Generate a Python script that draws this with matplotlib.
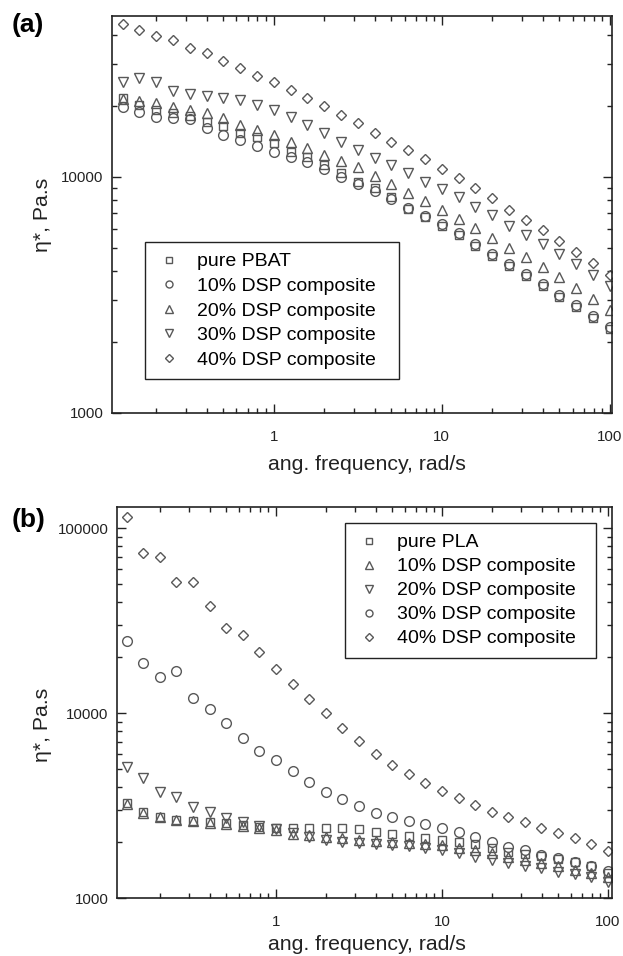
import matplotlib
matplotlib.use('Agg')
import matplotlib.pyplot as plt
from matplotlib.ticker import LogLocator, NullFormatter, FuncFormatter

plt.rcParams['font.family'] = ['Liberation Sans', 'DejaVu Sans']

# angular frequency (rad/s), shared by both panels
freq = [0.126, 0.158, 0.2, 0.251, 0.316, 0.398, 0.501, 0.631, 0.794, 1.0,
        1.26, 1.58, 2.0, 2.51, 3.16, 3.98, 5.01, 6.31, 7.94, 10.0,
        12.6, 15.8, 20.0, 25.1, 31.6, 39.8, 50.1, 63.1, 79.4, 100.0]

# ---- panel (a): PBAT composites, complex viscosity (Pa.s)
a_labels = ['pure PBAT', '10% DSP composite', '20% DSP composite',
            '30% DSP composite', '40% DSP composite']
a_pure = [21610, 20190, 19230, 18670, 18130, 17110, 16450, 15360, 14770, 13940,
          12760, 12150, 11240, 10390, 9520, 8980, 8230, 7320, 6770, 6200,
          5680, 5100, 4630, 4200, 3810, 3450, 3100, 2810, 2530, 2270]
a_10 = [19800, 18860, 17960, 17780, 17610, 16130, 15070, 14350, 13530, 12760,
        12150, 11570, 10810, 10000, 9340, 8720, 8070, 7390, 6830, 6320,
        5790, 5200, 4720, 4280, 3880, 3520, 3160, 2870, 2580, 2310]
a_20 = [21410, 20990, 20590, 19800, 19230, 18670, 17780, 16610, 15820, 15070,
        14070, 13270, 12400, 11690, 11030, 10100, 9340, 8560, 7910, 7250,
        6640, 6080, 5510, 5000, 4580, 4155, 3770, 3385, 3040, 2730]
a_30 = [25270, 26270, 25270, 23140, 22470, 22040, 21610, 21200, 20190, 19230,
        17960, 16610, 15360, 14070, 13010, 12040, 11240, 10390, 9520, 8900,
        8230, 7460, 6900, 6200, 5680, 5200, 4720, 4280, 3840, 3450]
a_40 = [44500, 41950, 39570, 38070, 35220, 33500, 31020, 28970, 26790, 25290,
        23380, 21660, 20000, 18320, 16950, 15360, 14060, 13000, 11920, 10810,
        9900, 8980, 8150, 7250, 6570, 5960, 5350, 4810, 4320, 3840]

# ---- panel (b): PLA composites
b_labels = ['pure PLA', '10% DSP composite', '20% DSP composite',
            '30% DSP composite', '40% DSP composite']
b_pure = [3263, 2915, 2740, 2640, 2608, 2575, 2543, 2480, 2420, 2390,
          2390, 2390, 2390, 2390, 2360, 2275, 2218, 2163, 2110, 2058,
          2008, 1958, 1863, 1773, 1729, 1687, 1625, 1565, 1490, 1365]
b_10 = [3222, 2880, 2740, 2640, 2608, 2543, 2512, 2450, 2390, 2331,
        2218, 2190, 2136, 2110, 2058, 2033, 2008, 1983, 1958, 1934,
        1863, 1818, 1751, 1665, 1605, 1546, 1490, 1417, 1365, 1299]
b_20 = [5105, 4450, 3740, 3515, 3105, 2915, 2705, 2575, 2450, 2360,
        2245, 2135, 2060, 2010, 1983, 1958, 1934, 1910, 1863, 1818,
        1751, 1665, 1605, 1546, 1490, 1453, 1382, 1348, 1299, 1220]
b_30 = [24500, 18640, 15650, 16870, 12050, 10510, 8830, 7325, 6230, 5570,
        4860, 4240, 3740, 3430, 3140, 2880, 2740, 2610, 2510, 2390,
        2275, 2135, 2010, 1890, 1820, 1710, 1645, 1565, 1490, 1400]
b_40 = [114700, 73250, 69700, 51070, 51070, 37880, 28810, 26400, 21370, 17290,
        14350, 11900, 10000, 8295, 7060, 6000, 5235, 4680, 4185, 3790,
        3470, 3180, 2915, 2740, 2575, 2390, 2245, 2110, 1960, 1795]

EC = '#585858'
markers_a = [('s', 6.0), ('o', 7.0), ('^', 7.5), ('v', 7.5), ('D', 5.6)]
markers_b = [('s', 6.0), ('^', 7.5), ('v', 7.5), ('o', 7.0), ('D', 5.6)]

W, H = 623, 956
fig = plt.figure(figsize=(W / 100, H / 100), dpi=100)


def px_axes(l, t, r, b):
    return fig.add_axes([l / W, 1 - b / H, (r - l) / W, (b - t) / H])


def style(ax, xlim, ylim):
    ax.set_xscale('log')
    ax.set_yscale('log')
    ax.set_xlim(*xlim)
    ax.set_ylim(*ylim)
    ax.xaxis.set_major_locator(LogLocator(base=10, numticks=10))
    ax.xaxis.set_minor_locator(LogLocator(base=10, subs=range(2, 10), numticks=20))
    ax.yaxis.set_major_locator(LogLocator(base=10, numticks=10))
    ax.yaxis.set_minor_locator(LogLocator(base=10, subs=range(2, 10), numticks=20))
    ax.xaxis.set_major_formatter(FuncFormatter(lambda v, p: '%g' % v))
    ax.yaxis.set_major_formatter(FuncFormatter(lambda v, p: '%d' % round(v)))
    ax.xaxis.set_minor_formatter(NullFormatter())
    ax.yaxis.set_minor_formatter(NullFormatter())
    ax.tick_params(which='both', direction='in', top=True, right=True,
                   width=1.0, colors='#222222', labelsize=10.8)
    ax.tick_params(which='major', length=6.5)
    ax.tick_params(which='minor', length=3.5)
    ax.tick_params(axis='x', which='major', pad=12.5)
    ax.tick_params(axis='y', which='major', pad=6)
    for s in ax.spines.values():
        s.set_linewidth(1.2)
        s.set_color('#222222')
    ax.set_xlabel('ang. frequency, rad/s', fontsize=15.3, color='#222222')
    ax.set_ylabel('η*, Pa.s', fontsize=15.3, color='#222222')
    ax.xaxis.label.set_verticalalignment('center')
    ax.yaxis.label.set_verticalalignment('center')


def draw(ax, series, labels, markers):
    for ys, lab, (m, ms) in zip(series, labels, markers):
        ax.plot(freq, ys, linestyle='none', marker=m, markersize=ms,
                markerfacecolor='none', markeredgecolor=EC,
                markeredgewidth=1.0, label=lab)


def legend(ax, l, t, r, b, spacing):
    leg = ax.legend(loc='upper left',
                    bbox_to_anchor=(l / W, 1 - b / H, (r - l) / W, (b - t) / H),
                    bbox_transform=fig.transFigure, mode='expand',
                    fontsize=14, frameon=True, fancybox=False, framealpha=1,
                    edgecolor='#222222', borderpad=0.55, handlelength=1.4,
                    handletextpad=0.7, labelspacing=spacing, markerscale=0.72,
                    numpoints=1, borderaxespad=0)
    leg.get_frame().set_linewidth(1.0)
    return leg


# panel (a)
ax1 = px_axes(112, 16, 612, 413)
style(ax1, (0.109, 103), (1000, 48000))
draw(ax1, [a_pure, a_10, a_20, a_30, a_40], a_labels, markers_a)
ax1.xaxis.set_label_coords((367 - 112) / 500, -(465 - 413) / 397)
ax1.yaxis.set_label_coords(-(112 - 43) / 500, 0.5)
legend(ax1, 145, 242, 399, 380, 0.36)

# panel (b)
ax2 = px_axes(117, 507, 612, 898)
style(ax2, (0.11, 106), (1000, 130000))
draw(ax2, [b_pure, b_10, b_20, b_30, b_40], b_labels, markers_b)
ax2.xaxis.set_label_coords((367 - 117) / 495, -(944 - 898) / 391)
ax2.yaxis.set_label_coords(-(117 - 43) / 495, (898 - 725) / 391)
legend(ax2, 345, 523, 596, 658, 0.33)

fig.text(12 / W, 1 - 25 / H, '(a)', fontsize=19, fontweight='bold',
         va='center', ha='left')
fig.text(12 / W, 1 - 520 / H, '(b)', fontsize=19, fontweight='bold',
         va='center', ha='left')

fig.savefig('out.png', dpi=100)
